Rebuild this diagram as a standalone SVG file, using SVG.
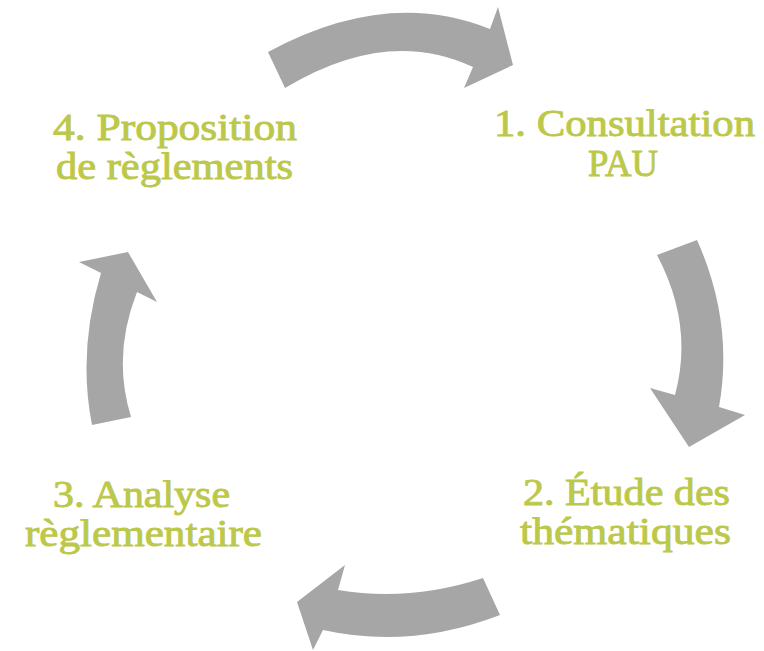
<svg xmlns="http://www.w3.org/2000/svg" width="764" height="651" viewBox="0 0 764 651">
<style>
.arrow{fill:#A6A6A6;stroke:none}
.lbl{font-family:"Liberation Serif","Times New Roman",serif;font-size:38px;fill:#BCC84A;stroke:#BCC84A;stroke-width:0.9px;text-anchor:middle}
</style>
<rect width="764" height="651" fill="#FFFFFF"/>
<g id="connectors">
<path class="arrow" d="M268,52 Q387,-12.5 490,29 L498,7 L513,65 L464,88 L473,67 Q387,26.5 285,88 Z"/>
<path class="arrow" d="M697,240 Q734,322.5 719,407 L745,415 L689,447 L650,388 L675,395 Q694,325 657,255 Z"/>
<path class="arrow" d="M483,578 Q409.5,602 338,590 L345,565 L297,602 L313,650 L323,630 Q410.5,649.5 500,615 Z"/>
<path class="arrow" d="M131,417 Q112,355.5 137,292 L157,302 L128,252 L79,262 L101,273 Q77.5,351 92,425 Z"/>
</g>
<g id="node1">
<text class="lbl" x="624.5" y="136" textLength="261" lengthAdjust="spacingAndGlyphs">1. Consultation</text>
<text class="lbl" x="623" y="176" textLength="70" lengthAdjust="spacingAndGlyphs">PAU</text>
</g>
<g id="node2">
<text class="lbl" x="626.5" y="505" textLength="207" lengthAdjust="spacingAndGlyphs">2. Étude des</text>
<text class="lbl" x="625.5" y="544" textLength="211" lengthAdjust="spacingAndGlyphs">thématiques</text>
</g>
<g id="node3">
<text class="lbl" x="141.5" y="507" textLength="177" lengthAdjust="spacingAndGlyphs">3. Analyse</text>
<text class="lbl" x="143.5" y="546" textLength="237" lengthAdjust="spacingAndGlyphs">règlementaire</text>
</g>
<g id="node4">
<text class="lbl" x="175" y="140" textLength="244" lengthAdjust="spacingAndGlyphs">4. Proposition</text>
<text class="lbl" x="174.5" y="179" textLength="237" lengthAdjust="spacingAndGlyphs">de règlements</text>
</g>
</svg>
